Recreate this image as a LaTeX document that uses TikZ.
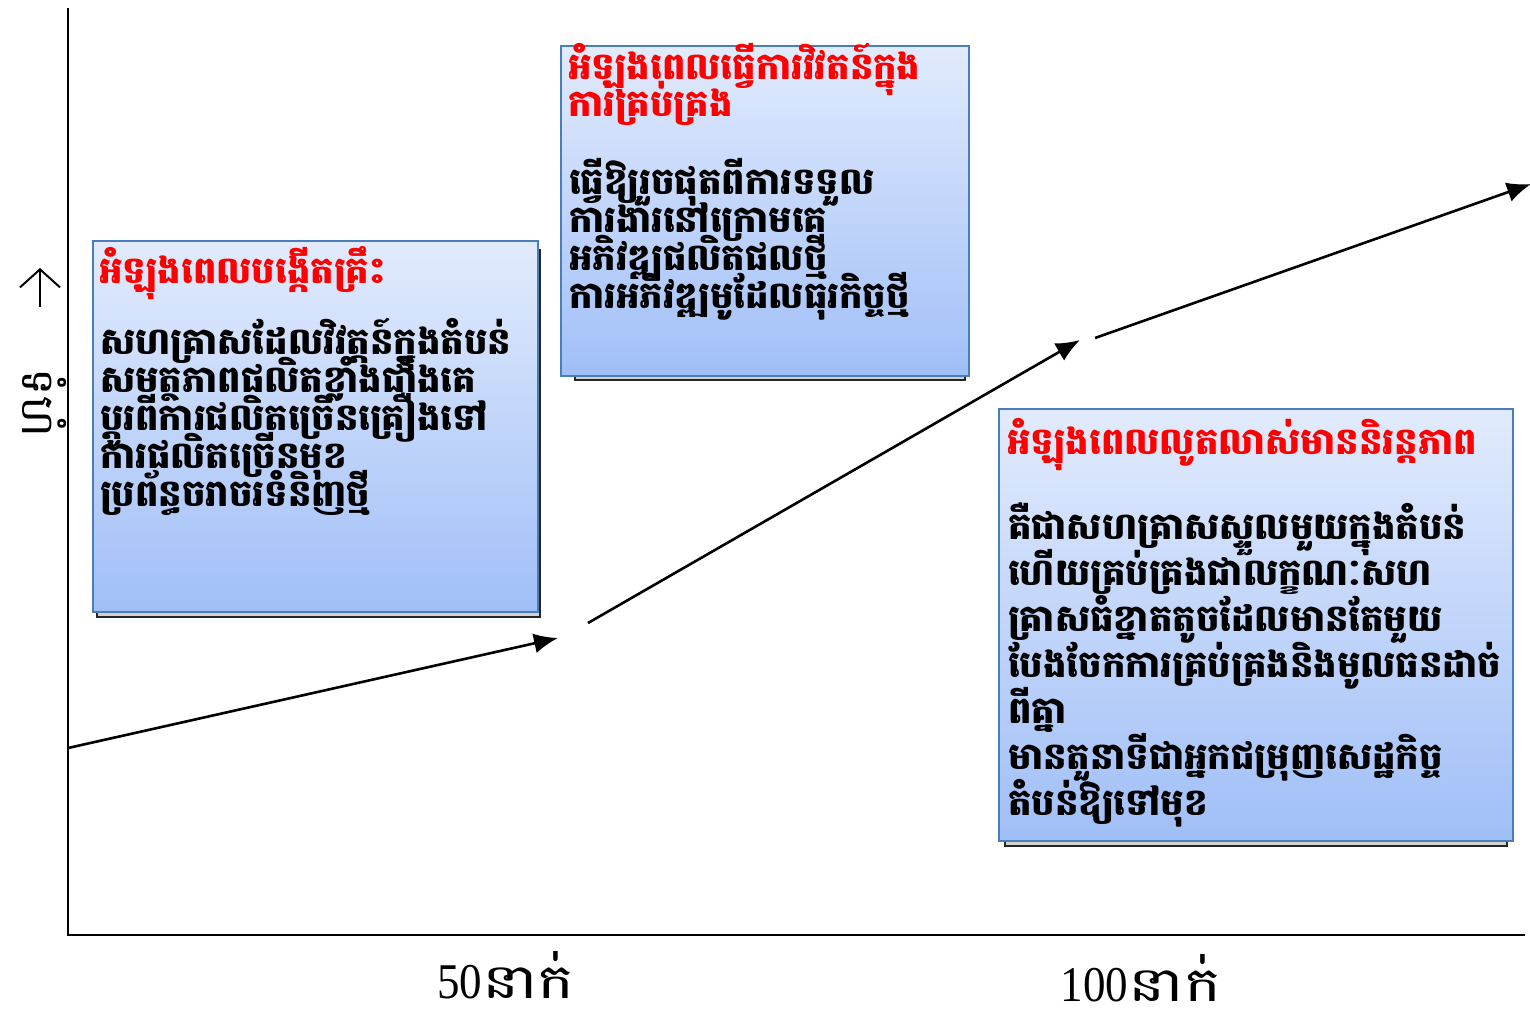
\documentclass[tikz,border=0pt]{standalone}
\usepackage{fontspec}
\setmainfont{Liberation Serif}
\newfontfamily\khmer[Script=Khmer]{Battambang}
\usetikzlibrary{arrows.meta}
\definecolor{boxtop}{HTML}{E2EBFD}
\definecolor{boxbot}{HTML}{A0BFF7}
\definecolor{boxborder}{HTML}{4A7EBB}
\newcommand\tightlines{\lineskiplimit=-200pt\lineskip=0pt\relax}
\tikzset{
  panel/.style={draw=boxborder, line width=1.6pt, top color=boxtop, bottom color=boxbot, inner sep=0pt, anchor=north west},
  panelshadow/.style={fill=black!18, draw=black!85, line width=2.2pt},
  ttl/.style={text=red, font=\khmer\bfseries\fontsize{37}{37}\selectfont\tightlines, align=left, anchor=north west, inner sep=0pt},
  bodytxt/.style={text=black, font=\khmer\bfseries\fontsize{37}{38}\selectfont\tightlines, align=left, anchor=north west, inner sep=0pt},
  conn/.style={line width=2.6pt, -{Latex[length=24pt,width=20pt]}},
  axis/.style={line width=2.4pt},
  xlab/.style={inner sep=0pt, anchor=base}
}
\newcommand\xlabtext[1]{\scalebox{0.9}[1]{\fontsize{50}{50}\selectfont #1}\scalebox{1.3}[1]{\khmer\fontsize{48}{50}\selectfont នាក់}}
\begin{document}
\begin{tikzpicture}[x=1pt,y=-1pt]
\useasboundingbox (0,0) rectangle (1530,1010);
\fill[white] (0,0) rectangle (1530,1010);
% axes
\coordinate (ytop) at (68,8);
\coordinate (origin) at (68,935);
\coordinate (xend) at (1525,935);
\draw[axis] (ytop) -- (origin) -- (xend);
% y label
\coordinate (uparrowlow) at (40,307);
\coordinate (uparrowtip) at (40,268);
\draw[line width=2pt, -{Straight Barb[length=18pt,width=40pt]}] (uparrowlow) -- (uparrowtip);
\node[rotate=-90, font=\khmer\fontsize{46}{52}\selectfont, inner sep=0pt] (ylab) at (45,403) {ទំហំ};
% x labels
\node[xlab] (x50) at (506,998) {\xlabtext{50}};
\node[xlab] (x100) at (1141,1001) {\xlabtext{100}};
% shadows
\draw[panelshadow] (97,250) rectangle (540,617);
\draw[panelshadow] (575,55) rectangle (965,380);
\draw[panelshadow] (1005,420) rectangle (1507,846);
% panels
\node[panel, minimum width=445pt, minimum height=371pt] (b1) at (92,240) {};
\node[panel, minimum width=408pt, minimum height=330pt] (b2) at (560,45) {};
\node[panel, minimum width=514pt, minimum height=432pt] (b3) at (998,408) {};
% box 1 text
\node[ttl] (t1) at (b1.north west) [xshift=7pt, yshift=-6pt] {អំឡុងពេលបង្កើតគ្រឹះ};
\node[bodytxt] (p1) at (100,318) {សហគ្រាសដែលវិវត្តន៍ក្នុងតំបន់\\សមត្ថភាពផលិតខ្លាំងជាំងគេ\\ប្តូរពីការផលិតច្រើនគ្រឿងទៅ\\ការផលិតច្រើនមុខ\\ប្រព័ន្ធចរាចរទំនិញថ្មី};
% box 2 text
\node[ttl] (t2) at (b2.north west) [xshift=8pt, yshift=2pt] {អំឡុងពេលធ្វើការវិវតន៍ក្នុង\\ការគ្រប់គ្រង};
\node[bodytxt] (p2) at (569,158) {ធ្វើឱ្យរួចផុតពីការទទួល\\ការងារនៅក្រោមគេ\\អភិវឌ្ឍផលិតផលថ្មី\\ការអភិវឌ្ឍមូដែលធុរកិច្ចថ្មី};
% box 3 text
\node[ttl] (t3) at (b3.north west) [xshift=9pt, yshift=-10pt] {អំឡុងពេលលូតលាស់មាននិរន្តភាព};
\node[bodytxt, font=\khmer\bfseries\fontsize{37}{46}\selectfont\tightlines] (p3) at (1008,503) {គឺជាសហគ្រាសស្ទួលមួយក្នុងតំបន់\\ហើយគ្រប់គ្រងជាលក្ខណៈសហ\\គ្រាសធំខ្នាតតូចដែលមានតែមួយ\\បែងចែកការគ្រប់គ្រងនិងមូលធនដាច់\\ពីគ្នា\\មានតួនាទីជាអ្នកជម្រុញសេដ្ឋកិច្ច\\តំបន់ឱ្យទៅមុខ};
% connectors
\coordinate (a1s) at (68,748);
\coordinate (a1e) at (558,638);
\coordinate (a2s) at (588,623);
\coordinate (a2e) at (1080,340);
\coordinate (a3s) at (1095,338);
\coordinate (a3e) at (1531,184);
\draw[conn] (a1s) -- (a1e);
\draw[conn] (a2s) -- (a2e);
\draw[conn] (a3s) -- (a3e);
\end{tikzpicture}
\end{document}
